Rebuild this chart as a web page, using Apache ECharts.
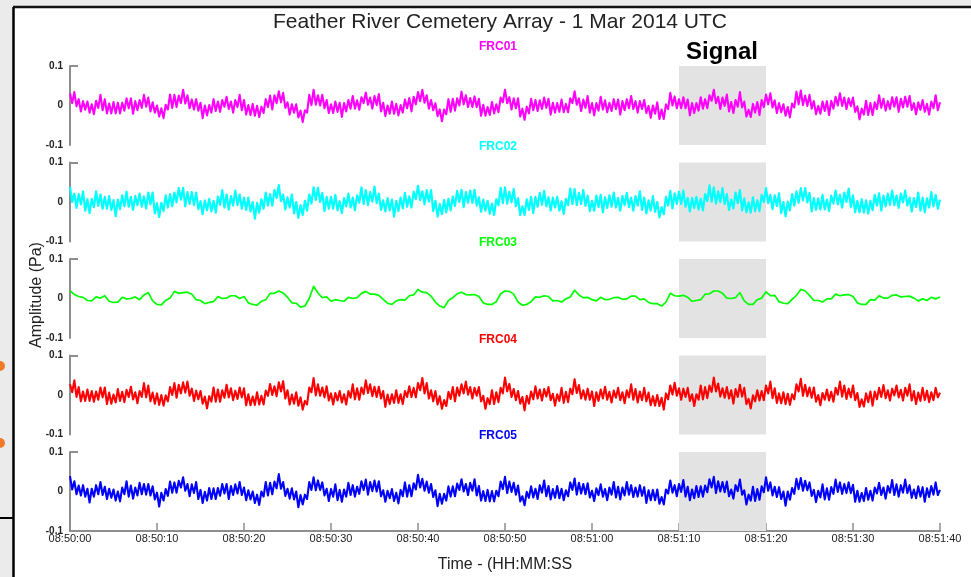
<!DOCTYPE html>
<html>
<head>
<meta charset="utf-8">
<title>Feather River Cemetery Array</title>
<script src="https://cdn.jsdelivr.net/npm/echarts@6.0.0/dist/echarts.min.js"></script>
<style>
  html, body { margin: 0; padding: 0; background: #ebebeb; }
  #chart { width: 971px; height: 577px; }
</style>
</head>
<body>
<div id="chart"></div>
<script>
// one panel per station
const stations = ["FRC01", "FRC02", "FRC03", "FRC04", "FRC05"];
const timeLabels = ["08:50:00", "08:50:10", "08:50:20", "08:50:30", "08:50:40", "08:50:50",
  "08:51:00", "08:51:10", "08:51:20", "08:51:30", "08:51:40"];
const signalWindow = [70, 80]; // seconds after 08:50:00

// pressure in mPa, every 0.25 s (FRC03 every 0.5 s), 0..100 s
const frc01 = [
  31, 6, 34, -2, 16, -15, 11, -11, 10, -18, 3, -22, 12, -6, 27, -12, 16, -20, 5, -20,
  9, -20, 7, -20, 7, -13, 18, -7, 18, -21, 11, -12, 14, -6, 27, -3, 20, -15, 8, -18,
  0, -28, -7, -32, 2, -10, 28, -6, 27, -4, 25, 6, 40, 5, 26, -7, 15, -10, 16, -13,
  7, -32, 0, -25, 1, -18, 16, -14, 10, -16, 14, -3, 22, -9, 10, -18, 14, -4, 27, -12,
  14, -23, 1, -24, 4, -26, -1, -29, -3, -19, 16, -4, 25, -10, 26, 6, 36, 8, 32, -6,
  8, -23, 3, -18, 3, -30, -13, -42, -12, -18, 27, 1, 40, 2, 26, 0, 27, -7, 14, -19,
  3, -19, 10, -16, 7, -29, 6, -15, 14, -8, 24, -8, 13, -11, 21, 6, 33, 2, 20, -8,
  24, 1, 29, -15, 7, -27, 0, -21, 10, -21, 4, -25, 1, -18, 15, -7, 19, -15, 22, 3,
  34, 11, 40, 7, 26, -8, 14, -12, 6, -27, -10, -40, -10, -22, 16, -16, 17, -13, 18, 0,
  35, 3, 26, -4, 19, -4, 23, -4, 17, -26, 2, -26, -4, -24, 9, -20, 3, -17, 20, 8,
  40, 6, 21, -10, 18, -7, 18, -28, -8, -36, -3, -20, 17, -12, 14, -14, 13, -9, 20, -6,
  17, -23, 7, -18, 6, -16, 15, -17, 4, -17, 18, 6, 36, 2, 18, -14, 15, -6, 24, -18,
  6, -25, 6, -13, 22, -10, 13, -17, 7, -14, 16, -9, 15, -23, 11, -12, 16, -7, 24, -9,
  11, -18, 11, -9, 14, -19, -1, -31, 0, -21, 8, -34, -10, -34, 3, -9, 32, 0, 23, -7,
  16, -7, 21, -7, 15, -25, 6, -19, 6, -13, 21, -8, 16, -7, 26, 12, 40, 6, 22, -9,
  20, -1, 28, -15, 9, -19, 14, -3, 34, -5, 10, -28, -11, -29, 4, -18, 9, -24, 14, -4,
  28, 3, 31, -5, 13, -19, 6, -17, 3, -26, -4, -30, 5, -5, 35, 3, 38, 1, 25, -1,
  27, -8, 11, -22, -1, -21, 10, -14, 11, -24, 12, -8, 22, 0, 31, -1, 20, -9, 18, -2,
  20, -16, -2, -35, -8, -23, 12, -24, 6, -24, 8, -9, 26, -6, 17, -13, 11, -9, 21, -3,
  21, -16, 17, -5, 22, -3, 24, -11, 6, -22, 8, -11, 14, -16, 4, -23, 10, -7, 26, -12,
  8
];
const frc02 = [
  38, 0, 21, -15, 20, -6, 27, -22, 7, -28, 8, -13, 27, -10, 19, -17, 13, -17, 15, -20,
  5, -36, 6, -18, 17, -11, 26, -12, 13, -20, 15, -8, 21, -12, 14, -16, 24, -6, 24, -29,
  -3, -38, -2, -23, 17, -14, 20, -11, 24, -1, 35, 6, 36, -11, 25, -5, 25, -8, 24, -18,
  2, -31, 4, -21, 8, -24, 3, -27, 14, -7, 30, -14, 19, -19, 15, -9, 29, -8, 19, -17,
  11, -20, 11, -24, 0, -42, -2, -27, 7, -17, 24, -9, 20, -9, 30, 10, 43, 2, 19, -19,
  12, -14, 19, -29, 0, -40, -8, -33, 3, -22, 19, -4, 37, 5, 36, 0, 23, -23, 13, -17,
  13, -17, 18, -21, 2, -28, 10, -11, 21, -14, 11, -21, 17, -2, 37, -5, 30, -8, 25, 1,
  39, -3, 21, -20, 4, -24, 10, -21, 6, -37, 3, -23, 11, -16, 23, -12, 14, -14, 26, 7,
  41, 5, 27, -6, 30, 1, 30, -23, 3, -37, -5, -31, 5, -26, 8, -21, 14, -10, 28, 0,
  31, -13, 25, -2, 29, -2, 31, -9, 12, -25, 6, -22, 3, -30, -4, -33, 7, -8, 36, -3,
  37, -4, 26, -1, 33, -11, 10, -33, -11, -33, 7, -20, 13, -28, 13, -12, 23, -7, 28, -11,
  12, -22, 11, -14, 13, -22, 2, -30, 8, -8, 34, -5, 33, -8, 23, -5, 30, -10, 16, -23,
  3, -22, 16, -13, 18, -26, 12, -15, 17, -12, 24, -14, 10, -22, 15, -8, 23, -13, 11, -22,
  15, -9, 27, -20, 11, -29, 4, -22, 15, -25, 0, -39, -13, -31, 13, -9, 28, -16, 22, -5,
  26, -5, 29, -12, 10, -24, 10, -15, 13, -19, 8, -21, 20, 2, 42, 1, 37, -4, 27, 0,
  35, -5, 20, -20, 6, -16, 24, -3, 30, -21, 9, -26, -1, -27, 12, -23, 4, -23, 18, 0,
  35, -3, 18, -18, 17, -10, 22, -28, 0, -36, 1, -21, 20, -9, 27, -2, 35, 4, 35, -1,
  23, -24, 10, -20, 9, -19, 18, -19, 6, -23, 16, -4, 29, -6, 18, -14, 24, 0, 34, -13,
  17, -26, 3, -26, 7, -27, 4, -29, 3, -21, 18, -9, 22, -22, 16, -11, 21, -7, 29, -8,
  16, -15, 21, -1, 29, -9, 11, -24, 10, -13, 24, -22, 11, -26, 9, -14, 25, -11, 18, -17,
  6
];
const frc03 = [
  20, 10, 5, 3, -5, -6, 4, 1, 7, -7, -10, -9, 3, -1, 0, 4, -3, 9, 15, -6,
  -15, -16, -5, 1, 18, 13, 15, 16, 11, -3, -5, -13, -10, -8, 5, 0, 1, 7, 7, 0,
  5, -11, -15, -17, -7, -3, 13, 13, 19, 14, 3, -11, -12, -22, -19, 0, 31, 14, 2, 4,
  -7, -3, -5, -7, 3, 0, 2, 13, 18, 11, 11, 8, -2, -12, -15, -6, -3, -4, 7, 9,
  23, 16, 15, 6, -9, -19, -23, -5, 2, 12, 16, 10, 9, 10, 5, -11, -15, -15, -8, 12,
  19, 18, 11, -9, -17, -15, -8, 4, 3, 7, 5, -6, -5, -9, -1, 4, 21, 9, 2, 3,
  -3, -6, 3, -3, -2, 2, 3, -2, -1, 6, 6, -3, -1, -10, -13, -13, -19, -9, 13, 7,
  6, 8, 3, -7, -5, -3, 11, 12, 19, 19, 13, 1, 0, 2, 15, -6, -15, -15, -3, 1,
  17, 7, 8, -8, -12, -13, -2, 8, 23, 19, 8, -5, -5, -9, -1, -1, 11, 7, 9, 10,
  5, -11, -15, -15, -3, -4, 7, 1, 1, 8, 9, 4, 5, 6, 1, -6, -1, -5, 3, -1,
  4
];
const frc04 = [
  27, 7, 37, -5, 20, -16, 9, -15, 14, -15, 10, -17, 9, -12, 19, -6, 19, -23, 6, -22,
  1, -19, 15, -15, 8, -18, 13, -5, 21, -11, 7, -21, 10, -5, 30, -6, 24, -16, 6, -22,
  4, -25, 0, -27, -1, -16, 20, 0, 30, -7, 26, 4, 32, 6, 34, -2, 16, -15, 11, -11,
  10, -22, -4, -34, -3, -17, 19, -17, 14, -17, 12, -7, 26, -6, 17, -13, 11, -10, 19, -6,
  17, -26, 2, -26, -4, -25, 7, -24, -2, -24, 11, -2, 28, 0, 22, -3, 32, 9, 35, -9,
  12, -24, 1, -22, 7, -27, -6, -37, -15, -24, 19, 7, 43, -1, 27, -2, 19, -6, 22, -14,
  4, -24, 5, -14, 10, -19, 2, -24, 10, -7, 27, -11, 17, -12, 19, 2, 37, 5, 27, -3,
  21, -5, 21, -9, 10, -30, 1, -23, 2, -20, 12, -20, 2, -23, 10, -5, 22, -5, 18, -6,
  30, 12, 43, 4, 30, -9, 12, -16, 10, -24, -3, -35, -13, -28, 8, -10, 20, -16, 19, -2,
  27, 4, 34, 1, 20, -9, 18, -2, 20, -16, -2, -35, -8, -23, 12, -23, 7, -18, 18, 4,
  44, 9, 28, -5, 15, -13, 10, -22, -5, -39, -2, -22, 9, -11, 22, -9, 14, -14, 15, -4,
  20, -13, 3, -27, 2, -15, 18, -20, 8, -18, 16, 2, 40, 5, 25, -9, 12, -12, 16, -12,
  9, -28, 7, -15, 14, -9, 21, -12, 8, -19, 11, -7, 18, -13, 7, -21, 12, -6, 27, -12,
  15, -19, 9, -13, 18, -16, 6, -26, -3, -27, 0, -28, -7, -37, 4, -11, 24, 1, 31, -2,
  17, -12, 16, -5, 18, -15, 2, -28, 2, -12, 24, -11, 20, -8, 24, 8, 44, 9, 29, -4,
  17, -7, 20, -9, 12, -22, 15, -5, 26, -4, 18, -23, -10, -34, -1, -16, 12, -14, 10, -13,
  24, 4, 34, -8, 17, -20, 4, -21, 7, -23, 3, -25, 2, -11, 27, 9, 41, -2, 26, -3,
  19, -7, 19, -17, 0, -26, 5, -12, 14, -14, 8, -17, 18, 1, 34, -4, 24, -10, 16, -6,
  24, -13, 5, -30, -11, -29, 4, -18, 9, -27, 9, -11, 18, -5, 25, -8, 12, -14, 16, -1,
  24, -6, 13, -14, 18, -2, 27, -14, 10, -23, 6, -15, 18, -13, 11, -18, 7, -13, 18, -6,
  6
];
const frc05 = [
  39, 5, 26, -7, 15, -10, 16, -13, 7, -28, 7, -13, 16, -7, 24, -9, 12, -19, 7, -16,
  5, -23, 0, -25, 10, -7, 26, -13, 15, -18, 10, -10, 22, -7, 19, -8, 19, -10, 13, -20,
  -3, -38, -3, -23, 6, -11, 25, -3, 23, -3, 27, 10, 36, 2, 19, -12, 18, -4, 24, -19,
  4, -29, -1, -23, 9, -19, 8, -19, 9, -11, 19, -5, 19, -19, 14, -9, 18, -5, 24, -9,
  10, -22, 3, -20, 0, -29, -8, -34, 0, -13, 24, -10, 22, -7, 25, 8, 44, 7, 24, -11,
  7, -18, 8, -20, 0, -40, -9, -33, -8, -19, 24, 4, 36, 3, 28, 4, 23, -10, 7, -24,
  6, -13, 18, -22, 4, -26, 5, -13, 22, -9, 16, -13, 12, -6, 26, 4, 30, -8, 24, 1,
  28, 0, 26, -12, 3, -26, 2, -17, 6, -24, -3, -30, 4, -12, 23, -13, 16, -12, 21, 5,
  42, 10, 32, 2, 25, -3, 19, -14, 3, -37, -6, -31, -6, -23, 13, -13, 13, -12, 20, 4,
  31, 0, 19, -9, 22, 2, 31, -10, 14, -23, 1, -24, 4, -25, 1, -25, 2, -12, 25, 6,
  37, -4, 25, -1, 22, -8, 15, -25, -12, -35, -1, -16, 13, -15, 7, -19, 16, -3, 28, -12,
  14, -20, 6, -16, 14, -17, 7, -22, 3, -12, 23, 4, 33, -8, 22, -5, 19, -7, 21, -15,
  2, -24, 8, -9, 18, -13, 6, -22, 10, -8, 24, -15, 12, -20, 10, -10, 24, -8, 16, -14,
  10, -13, 16, -11, 11, -29, 3, -22, 4, -22, 5, -31, -14, -33, 5, -5, 28, -3, 16, -12,
  19, -1, 29, -13, 12, -22, 5, -17, 14, -14, 13, -13, 15, -2, 31, 10, 37, -4, 26, 0,
  24, -2, 25, -12, 5, -18, 16, 1, 30, -8, 3, -33, -8, -23, 12, -24, 6, -21, 13, -2,
  36, 2, 23, -10, 12, -14, 11, -19, 0, -36, 0, -21, 9, -6, 32, 6, 34, 2, 27, 3,
  23, -11, 4, -27, 2, -15, 18, -20, 8, -21, 11, -6, 30, -1, 23, -6, 19, -4, 23, -4,
  17, -26, 2, -26, -4, -24, 9, -21, 2, -23, 10, -5, 22, -9, 10, -18, 14, -3, 29, -9,
  18, -13, 16, -3, 30, -4, 16, -16, 5, -17, 13, -13, 11, -26, 8, -14, 14, -8, 23, -9,
  4
];

const traces = [frc01, frc02, frc03, frc04, frc05];
const colors = ["#ff00ff", "#00ffff", "#00ff00", "#ff0000", "#0000ff"];
const lineWidths = [2.1, 2.2, 1.7, 2.1, 2.1];
const panelTops = [66, 162.5, 259, 355.5, 452];
const labelTops = [47, 147, 243, 340, 436];

let chart = echarts.init(document.getElementById("chart"));

let grids = [], xAxes = [], yAxes = [], series = [];
stations.forEach((name, i) => {
  let last = i === stations.length - 1;
  grids.push({ left: 70, right: 31, top: panelTops[i], height: 79 });
  xAxes.push({
    gridIndex: i,
    type: "value",
    min: 0,
    max: 100,
    interval: 10,
    show: last,
    axisLine: { show: true, onZero: false, lineStyle: { color: "#8e8e8e", width: 2 } },
    axisTick: { show: true, inside: true, length: 8, lineStyle: { color: "#8e8e8e", width: 1.5 } },
    axisLabel: {
      margin: 2,
      fontSize: 11,
      color: "#222",
      fontFamily: "Liberation Sans",
      formatter: (v) => timeLabels[Math.round(v / 10)],
    },
    splitLine: { show: false },
    name: last ? "Time - (HH:MM:SS" : "",
    nameLocation: "middle",
    nameGap: 26,
    nameTextStyle: { fontSize: 16, color: "#222", fontFamily: "Liberation Sans" },
  });
  yAxes.push({
    gridIndex: i,
    type: "value",
    min: -0.1,
    max: 0.1,
    interval: 0.1,
    axisLine: { show: true, lineStyle: { color: "#8e8e8e", width: 2 } },
    axisTick: { show: true, inside: true, length: 8, customValues: [0.1], lineStyle: { color: "#8e8e8e", width: 2 } },
    axisLabel: { margin: 7, fontSize: 10, fontWeight: "bold", color: "#222", fontFamily: "Liberation Sans" },
    splitLine: { show: false },
  });
  let arr = traces[i];
  series.push({
    name: name,
    type: "line",
    xAxisIndex: i,
    yAxisIndex: i,
    showSymbol: false,
    symbol: "none",
    animation: false,
    lineStyle: { color: colors[i], width: lineWidths[i], join: "round" },
    data: arr.map((v, k) => [(k * 100) / (arr.length - 1), v / 1000]),
    markArea: {
      silent: true,
      itemStyle: { color: "#e3e3e3" },
      data: [[{ xAxis: signalWindow[0] }, { xAxis: signalWindow[1] }]],
    },
  });
});

let texts = stations.map((name, i) => ({
  type: "text",
  x: 498,
  y: labelTops[i],
  style: {
    text: name,
    font: "bold 12px 'Liberation Sans', Arial",
    fill: colors[i],
    textAlign: "center",
    textVerticalAlign: "middle",
    align: "center",
    verticalAlign: "middle",
  },
}));

chart.setOption({
  backgroundColor: "#ebebeb",
  animation: false,
  grid: grids,
  xAxis: xAxes,
  yAxis: yAxes,
  series: series,
  graphic: [
    { type: "rect", z: -10, shape: { x: 14, y: 8, width: 957, height: 569 }, style: { fill: "#fff" } },
    { type: "line", shape: { x1: 13.5, y1: 7, x2: 13.5, y2: 577 }, style: { stroke: "#000", lineWidth: 2.5 } },
    { type: "line", shape: { x1: 13, y1: 7, x2: 971, y2: 7 }, style: { stroke: "#111", lineWidth: 2.5 } },
    { type: "line", shape: { x1: 0, y1: 518, x2: 13, y2: 518 }, style: { stroke: "#000", lineWidth: 2 } },
    { type: "circle", shape: { cx: 0, cy: 366, r: 5 }, style: { fill: "#f07a2a" } },
    { type: "circle", shape: { cx: 0, cy: 443, r: 5 }, style: { fill: "#f07a2a" } },
    {
      type: "text", x: 500, y: 22,
      style: {
        text: "Feather River Cemetery Array - 1 Mar 2014 UTC",
        font: "21px 'Liberation Sans', Arial", fill: "#222",
        textAlign: "center", textVerticalAlign: "middle", align: "center", verticalAlign: "middle",
      },
    },
    {
      type: "text", x: 722, y: 52,
      style: {
        text: "Signal", font: "bold 24px 'Liberation Sans', Arial", fill: "#000",
        textAlign: "center", textVerticalAlign: "middle", align: "center", verticalAlign: "middle",
      },
    },
    {
      type: "text", x: 37, y: 295, rotation: Math.PI / 2,
      style: {
        text: "Amplitude (Pa)", font: "16px 'Liberation Sans', Arial", fill: "#222",
        textAlign: "center", textVerticalAlign: "middle", align: "center", verticalAlign: "middle",
      },
    },
  ].concat(texts),
});
</script>
</body>
</html>
